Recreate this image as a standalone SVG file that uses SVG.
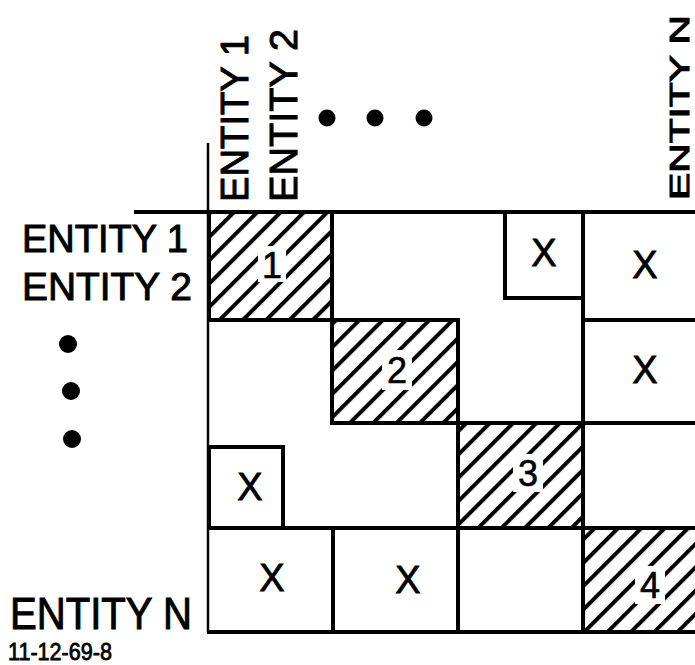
<svg xmlns="http://www.w3.org/2000/svg" width="695" height="665" viewBox="0 0 695 665">
<style>
.lbl{font-family:"Liberation Sans",Arial,sans-serif;fill:#000;stroke:#000;stroke-width:1}
.x{font-family:"Liberation Sans",Arial,sans-serif;font-size:38px;text-anchor:middle;fill:#000;stroke:#000;stroke-width:0.8}
.num{font-family:"Liberation Sans",Arial,sans-serif;font-size:36px;text-anchor:middle;fill:#000;stroke:#000;stroke-width:0.6}
.ln{stroke:#000;stroke-width:4;fill:none;stroke-linecap:square}
.hat{fill:url(#hatch);stroke:#000;stroke-width:4}
.gap{fill:#fff}
</style>
<defs>
<pattern id="hatch" patternUnits="userSpaceOnUse" width="16.5" height="16.5" patternTransform="rotate(45)">
<rect width="16.5" height="16.5" fill="#fff"/>
<line x1="2" y1="0" x2="2" y2="16.5" stroke="#000" stroke-width="4"/>
</pattern>
</defs>
<rect width="695" height="665" fill="#fff"/>

<g id="top-labels">
<text class="lbl" font-size="39" transform="translate(248,202) rotate(-90)" textLength="167" lengthAdjust="spacingAndGlyphs">ENTITY 1</text>
<text class="lbl" font-size="39" transform="translate(297,202) rotate(-90)" textLength="173" lengthAdjust="spacingAndGlyphs">ENTITY 2</text>
<text class="lbl" font-size="27" transform="translate(689,200) rotate(-90)" textLength="185" lengthAdjust="spacingAndGlyphs">ENTITY N</text>
<circle cx="327" cy="118" r="8.5"/>
<circle cx="375" cy="118" r="8.5"/>
<circle cx="424" cy="118" r="8.5"/>
</g>

<g id="left-labels">
<text class="lbl" font-size="39" x="22" y="252" textLength="166" lengthAdjust="spacingAndGlyphs">ENTITY 1</text>
<text class="lbl" font-size="39" x="22" y="300" textLength="170" lengthAdjust="spacingAndGlyphs">ENTITY 2</text>
<text class="lbl" font-size="45" x="10" y="629" textLength="182" lengthAdjust="spacingAndGlyphs">ENTITY N</text>
<circle cx="68" cy="344" r="9"/>
<circle cx="71" cy="391" r="9"/>
<circle cx="72" cy="439" r="9"/>
<text class="lbl" font-size="24" x="8" y="660" textLength="104" lengthAdjust="spacingAndGlyphs" style="stroke-width:0.8">11-12-69-8</text>
</g>

<g id="block1">
<rect class="hat" x="209" y="212" width="123" height="108"/>
<rect class="gap" x="258" y="246" width="28" height="36"/>
<text class="num" x="272" y="278">1</text>
</g>
<g id="block2">
<rect class="hat" x="332" y="320" width="126" height="103"/>
<rect class="gap" x="382" y="350" width="30" height="40"/>
<text class="num" x="397" y="383">2</text>
</g>
<g id="block3">
<rect class="hat" x="458" y="423" width="125" height="105"/>
<rect class="gap" x="513" y="454" width="30" height="38"/>
<text class="num" x="528" y="486">3</text>
</g>
<g id="block4">
<rect class="hat" x="583" y="528" width="130" height="104"/>
<rect class="gap" x="635" y="566" width="30" height="38"/>
<text class="num" x="650" y="598">4</text>
</g>

<g id="connectors">
<line x1="136" y1="212" x2="695" y2="212" class="ln"/>
<line x1="208" y1="143" x2="208" y2="632" stroke="#000" stroke-width="2.5"/>
<line x1="583" y1="212" x2="583" y2="423" class="ln"/>
<line x1="583" y1="320" x2="700" y2="320" class="ln"/>
<line x1="583" y1="423" x2="700" y2="423" class="ln"/>
<line x1="209" y1="528" x2="458" y2="528" class="ln"/>
<line x1="209" y1="632" x2="583" y2="632" class="ln"/>
<line x1="333" y1="528" x2="333" y2="632" class="ln"/>
<line x1="458" y1="423" x2="458" y2="632" class="ln"/>
</g>

<g id="cell-x1">
<rect class="ln" x="505" y="212" width="78" height="86"/>
<text class="x" x="544" y="266">X</text>
</g>
<g id="cell-x2"><text class="x" x="645" y="278">X</text></g>
<g id="cell-x3"><text class="x" x="645" y="383">X</text></g>
<g id="cell-x4">
<rect class="ln" x="209" y="447" width="74" height="81"/>
<text class="x" x="250" y="500">X</text>
</g>
<g id="cell-x5"><text class="x" x="272" y="591">X</text></g>
<g id="cell-x6"><text class="x" x="408" y="593">X</text></g>
</svg>
